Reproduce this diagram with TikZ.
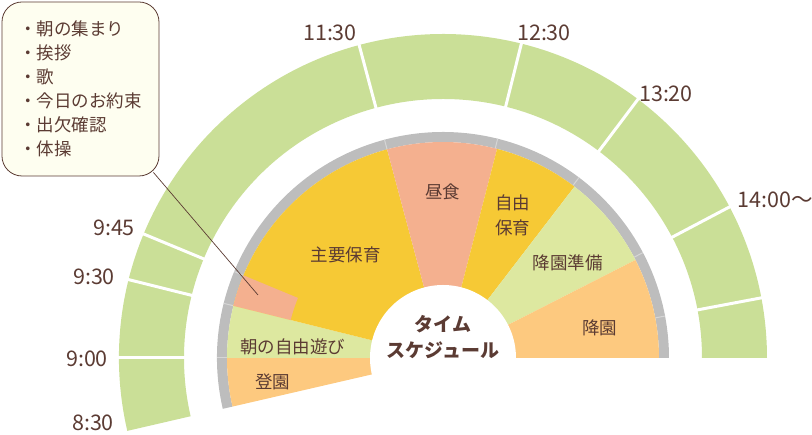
\documentclass[tikz,border=0pt]{standalone}
\usepackage{fontspec}
\setmainfont{Noto Sans CJK JP}
\usetikzlibrary{calc}

\definecolor{ringgreen}{HTML}{CADF97}
\definecolor{ringgray}{HTML}{BDBDBD}
\definecolor{tickgray}{HTML}{D6D6D6}
\definecolor{mainyellow}{HTML}{F6C935}
\definecolor{lunchpink}{HTML}{F4B08F}
\definecolor{playgreen}{HTML}{DDE8A0}
\definecolor{arriveorange}{HTML}{FDC97F}
\definecolor{textbrown}{HTML}{5B3B33}
\definecolor{notecream}{HTML}{FEFEF0}

\begin{document}
\begin{tikzpicture}[x=1pt, y=1pt,
		timelabel/.style={text=textbrown, font=\fontsize{21.5}{21.5}\selectfont, inner sep=1},
		partlabel/.style={text=textbrown, font=\fontsize{17.5}{25}\selectfont, align=center},
		divider/.style={white, line width=3}]
		\useasboundingbox (-443,-77) rectangle (369,358);

		% outer time ring
		\fill[ringgreen] (193:259) -- (193:324) arc[start angle=193, end angle=0, radius=324]
			-- (0:259) arc[start angle=0, end angle=193, radius=259] -- cycle;
		\foreach \a in {180,166,157.5,105,76,53,27.8,10.7}
			\draw[divider] (\a:257) -- (\a:326);

		% gray ring
		\fill[ringgray] (193:216) -- (193:226) arc[start angle=193, end angle=0, radius=226]
			-- (0:216) arc[start angle=0, end angle=193, radius=216] -- cycle;
		\foreach \a in {180,166,157.5,105,76,53,27.8,10.7}
			\draw[tickgray, line width=1] (\a:216) -- (\a:226);

		% pie parts
		\foreach \a/\b/\c in {193/180/arriveorange, 180/166/playgreen, 166/105/mainyellow,
				105/75.5/lunchpink, 75.5/52.5/mainyellow, 52.5/27/playgreen, 27/0/arriveorange}
			\fill[\c] (0,0) -- (\a:216) arc[start angle=\a, end angle=\b, radius=216] -- cycle;
		\fill[lunchpink] (166:157) -- (166:216) arc[start angle=166, end angle=157.5, radius=216]
			-- (157.5:157) arc[start angle=157.5, end angle=166, radius=157] -- cycle;

		\fill[white] (0,0) circle (73);

		% labels
		\node[timelabel] (t0830) at (-350,-65) {8:30};
		\node[timelabel] (t0900) at (-356,-1) {9:00};
		\node[timelabel] (t0930) at (-349,81) {9:30};
		\node[timelabel] (t0945) at (-329,130) {9:45};
		\node[timelabel] (t1130) at (-113,325) {11:30};
		\node[timelabel] (t1230) at (101,325) {12:30};
		\node[timelabel] (t1320) at (223,264) {13:20};
		\node[timelabel] (t1400) at (332,158) {14:00～};

		\node[partlabel] (arrive) at (-170,-24) {登園};
		\node[partlabel] (freeplay) at (-150,11) {朝の自由遊び};
		\node[partlabel] (mainplay) at (-97,103) {主要保育};
		\node[partlabel] (lunch) at (0,166) {昼食};
		\node[partlabel] (freecare) at (70,143) {自由\\保育};
		\node[partlabel] (prepare) at (125,95) {降園準備};
		\node[partlabel] (leave) at (157,30) {降園};
		\node[partlabel, font=\bfseries\fontsize{19}{26}\selectfont] (title) at (0,21) {タイム\\スケジュール};

		% memo balloon
		\node[draw=textbrown, fill=notecream, rounded corners=20, line width=0.8,
			minimum width=157, minimum height=174, align=left, text=textbrown,
			font=\fontsize{17.5}{24}\selectfont] (note) at (-362.5,269)
			{・朝の集まり\\・挨拶\\・歌\\・今日のお約束\\・出欠確認\\・体操};
		\coordinate (memo) at (-185,63);
		\draw[textbrown, line width=0.7] ($(note.south east)+(-6,4)$) -- (memo);
	\end{tikzpicture}
\end{document}
